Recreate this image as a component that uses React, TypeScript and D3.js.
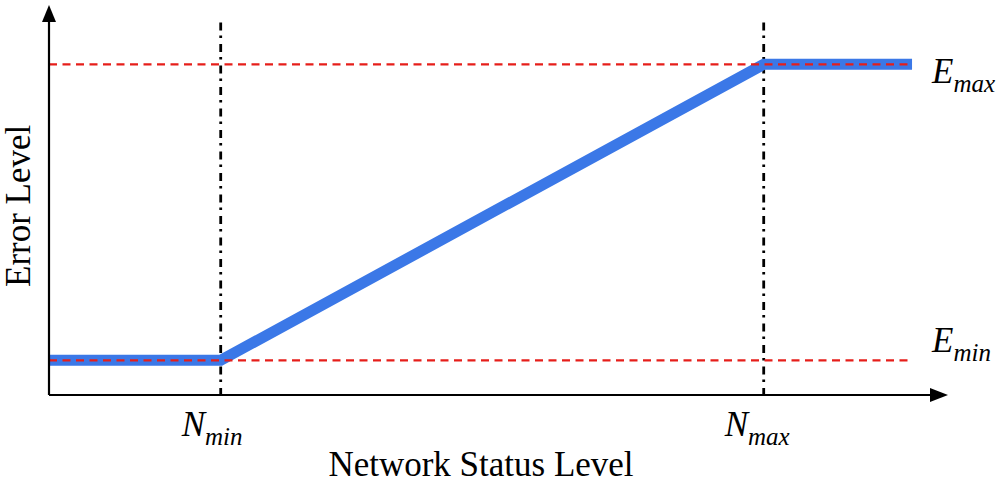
import React, { useRef, useEffect } from "react";
import * as d3 from "d3";

// piecewise error level vs network status level (abstract units 0..100)
const curveX = [0, 19.1, 79.5, 96];
const curveY = [8.9, 8.9, 84.8, 84.8];
const nLevels = [
  { name: "min", value: 19.1 },
  { name: "max", value: 79.5 },
];
const eLevels = [
  { name: "max", value: 84.8 },
  { name: "min", value: 8.9 },
];
const xTitle = "Network Status Level";
const yTitle = "Error Level";

const W = 996;
const H = 485;

const App = () => {
  const ref = useRef<SVGSVGElement>(null);

  useEffect(() => {
    document.body.style.margin = "0";
    const svg = d3.select(ref.current);
    svg.selectAll("*").remove();

    const x = d3.scaleLinear().domain([0, 100]).range([49, 948]);
    const y = d3.scaleLinear().domain([0, 100]).range([395, 5]);
    const font = "'Liberation Serif', 'Times New Roman', Times, serif";

    // threshold lines
    svg
      .selectAll("line.nlev")
      .data(nLevels)
      .enter()
      .append("line")
      .attr("class", "nlev")
      .attr("x1", (d) => x(d.value))
      .attr("x2", (d) => x(d.value))
      .attr("y1", y(95.5))
      .attr("y2", y(0))
      .attr("stroke", "#000")
      .attr("stroke-width", 2.8)
      .attr("stroke-dasharray", "8,5,2.5,6");

    const line = d3
      .line<number>()
      .x((d, i) => x(curveX[i]))
      .y((d) => y(d));

    svg
      .append("path")
      .datum(curveY)
      .attr("d", line)
      .attr("fill", "none")
      .attr("stroke", "#3b78e7")
      .attr("stroke-width", 11);

    svg
      .selectAll("line.elev")
      .data(eLevels)
      .enter()
      .append("line")
      .attr("class", "elev")
      .attr("x1", x(0))
      .attr("x2", x(96))
      .attr("y1", (d) => y(d.value))
      .attr("y2", (d) => y(d.value))
      .attr("stroke", "#e61e1a")
      .attr("stroke-width", 2.2)
      .attr("stroke-dasharray", "8,5.5");

    // axes with arrow heads
    svg
      .append("line")
      .attr("x1", x(0))
      .attr("x2", x(99))
      .attr("y1", y(0))
      .attr("y2", y(0))
      .attr("stroke", "#000")
      .attr("stroke-width", 2.2);
    svg
      .append("line")
      .attr("x1", x(0))
      .attr("x2", x(0))
      .attr("y1", y(0))
      .attr("y2", y(97))
      .attr("stroke", "#000")
      .attr("stroke-width", 2.2);
    svg
      .append("path")
      .attr("d", `M${x(100)},${y(0)} L${x(100) - 18},${y(0) - 7} L${x(100) - 18},${y(0) + 7} Z`)
      .attr("fill", "#000");
    svg
      .append("path")
      .attr("d", `M${x(0)},${y(100)} L${x(0) - 7},${y(100) + 17} L${x(0) + 7},${y(100) + 17} Z`)
      .attr("fill", "#000");

    // labels
    const nl = svg
      .selectAll("text.nl")
      .data(nLevels)
      .enter()
      .append("text")
      .attr("class", "nl")
      .attr("x", (d) => x(d.value) - 39)
      .attr("y", 436)
      .style("font-family", font)
      .style("font-style", "italic")
      .style("font-size", "35px")
      .attr("fill", "#000");
    nl.append("tspan").text("N");
    nl.append("tspan").style("font-size", "25px").attr("dy", 9).text((d) => d.name);

    const el = svg
      .selectAll("text.el")
      .data(eLevels)
      .enter()
      .append("text")
      .attr("class", "el")
      .attr("x", 932)
      .attr("y", (d) => y(d.value) + (d.name === "max" ? 19 : -8))
      .style("font-family", font)
      .style("font-style", "italic")
      .style("font-size", "35px")
      .attr("fill", "#000");
    el.append("tspan").text("E");
    el.append("tspan").style("font-size", "25px").attr("dy", 9).text((d) => d.name);

    svg
      .append("text")
      .attr("x", 481)
      .attr("y", 476)
      .attr("text-anchor", "middle")
      .style("font-family", font)
      .style("font-size", "35px")
      .text(xTitle);

    svg
      .append("text")
      .attr("transform", `translate(30,${y(48.5)}) rotate(-90)`)
      .attr("text-anchor", "middle")
      .style("font-family", font)
      .style("font-size", "35px")
      .text(yTitle);
  }, []);

  return (
    <div className="chart">
      <svg ref={ref} width={W} height={H} style={{ display: "block", background: "#fff" }}></svg>
    </div>
  );
};

export default App;
